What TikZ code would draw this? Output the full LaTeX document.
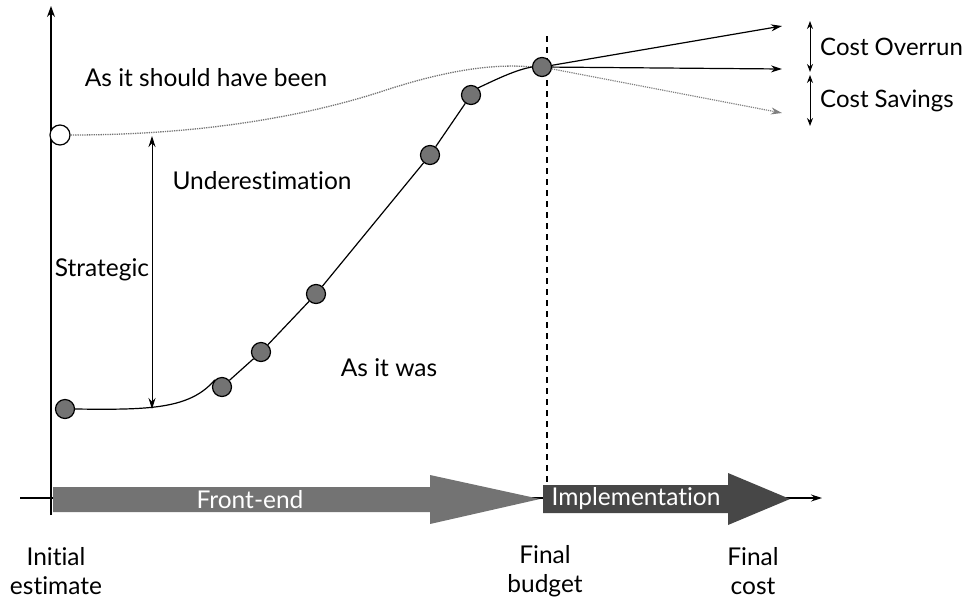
\documentclass[tikz,border=0pt]{standalone}
\usepackage{fontspec}
\setmainfont[Ligatures=NoCommon]{Lato}
\usetikzlibrary{arrows.meta}
\begin{document}
\begin{tikzpicture}[x=1pt,y=-1pt,
  lbl/.style={font=\fontsize{24.5}{29}\selectfont, inner sep=0pt},
  side/.style={font=\fontsize{24}{28}\selectfont, inner sep=0pt, anchor=west},
  twoline/.style={lbl, align=center, font=\fontsize{24.5}{29}\selectfont},
  dot/.style={circle, draw=black, line width=1.2pt, fill=black!55, minimum size=19pt, inner sep=0pt},
  opendot/.style={circle, draw=black, line width=1.2pt, fill=white, minimum size=20pt, inner sep=0pt},
  axis/.style={line width=1.2pt, -{Stealth[length=11pt,width=8pt]}},
  tip/.style={-{Stealth[length=11pt,width=7pt]}},
  dbl/.style={line width=1pt, {Stealth[length=8pt,width=6pt]}-{Stealth[length=8pt,width=6pt]}}]
\useasboundingbox (0,0) rectangle (971,603);

% axes
\coordinate (origin) at (51,515);
\coordinate (ytop) at (51,6);
\coordinate (xleft) at (20,498);
\coordinate (xright) at (822,498);
\draw[axis] (origin) -- (ytop);
\draw[line width=1.2pt, -{Stealth[length=11pt,width=7pt]}] (xleft) -- (xright);

% phase arrows
\fill[black!55] (53,487) -- (430,487) -- (430,475) -- (540,499) -- (430,524)
  -- (430,512) -- (53,512) -- cycle;
\node[white, lbl] (front) at (250,500) {Front-end};
\fill[black!72] (543,485) -- (728,485) -- (728,473) -- (790,499) -- (728,525)
  -- (728,513) -- (543,513) -- cycle;
\node[white, lbl] (impl) at (636,499) {Implementation};

% final budget marker
\coordinate (vtop) at (547,36);
\coordinate (vbot) at (547,485);
\draw[line width=1.3pt, dash pattern=on 6pt off 5pt] (vtop) -- (vbot);

% nodes on the curves
\node[opendot] (o) at (60,135) {};
\node[dot] (p0) at (65,409) {};
\node[dot] (p1) at (222,387) {};
\node[dot] (p2) at (261,352) {};
\node[dot] (p3) at (316,294) {};
\node[dot] (p4) at (430,155) {};
\node[dot] (p5) at (471,95) {};
\node[dot] (p6) at (542,67) {};

% planned path (dotted grey)
\draw[black!55, line width=1.3pt, densely dotted]
  (o.east) .. controls (170,135) and (280,124) .. (380,92)
  .. controls (440,72) and (490,63) .. (p6.west);

% actual path
\draw[line width=1.2pt] (p0.east) .. controls (150,410) and (190,409) .. (p1.north west);
\draw[line width=1.2pt] (p1) -- (p2) -- (p3) -- (p4) -- (p5);
\draw[line width=1.2pt] (p5.north east) .. controls (495,80) and (515,70) .. (p6.west);

% outcomes
\coordinate (over) at (782,26);
\coordinate (even) at (782,69);
\coordinate (save) at (782,113);
\draw[line width=1.2pt, tip] (p6) -- (over);
\draw[line width=1.2pt, tip] (p6) -- (even);
\draw[line width=1.2pt, black!50, densely dotted, -{Stealth[length=11pt,width=7pt]}] (p6) -- (save);

% range arrows
\coordinate (r1) at (810,21);
\coordinate (r2) at (810,72);
\coordinate (r3) at (810,75);
\coordinate (r4) at (810,126);
\draw[dbl] (r1) -- (r2);
\draw[dbl] (r3) -- (r4);
\node[side] (co) at (820,47) {Cost Overrun};
\node[side] (cs) at (820,101) {Cost Savings};

% underestimation gap
\coordinate (g1) at (152,136);
\coordinate (g2) at (152,409);
\draw[dbl, {Stealth[length=11pt,width=7pt]}-{Stealth[length=11pt,width=7pt]}] (g1) -- (g2);

% labels
\node[lbl] (should) at (206,78) {As it should have been};
\node[lbl] (under) at (262,181) {Underestimation};
\node[lbl] (strat) at (102,270) {Strategic};
\node[lbl] (was) at (389,368) {As it was};
\node[twoline] (ie) at (56,571) {Initial\\estimate};
\node[twoline] (fb) at (545,571) {Final\\budget};
\node[twoline] (fc) at (753,571) {Final\\cost};
\end{tikzpicture}
\end{document}
